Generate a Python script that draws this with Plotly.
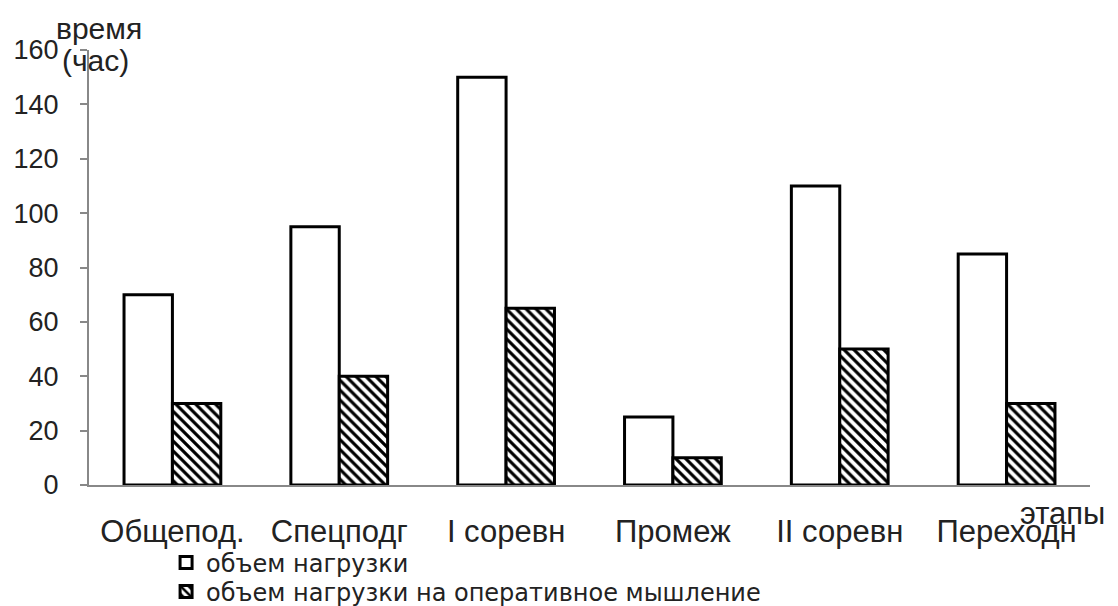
import plotly.graph_objects as go

categories = ["Общепод.", "Спецподг", "I соревн", "Промеж", "II соревн", "Переходн"]
load_total = [70, 95, 150, 25, 110, 85]
load_thinking = [30, 40, 65, 10, 50, 30]
series_names = ["объем нагрузки", "объем нагрузки на оперативное мышление"]
y_ticks = [0, 20, 40, 60, 80, 100, 120, 140, 160]

FONT = "Liberation Sans, Arial, sans-serif"
LFONT = "DejaVu Sans, Verdana, sans-serif"
TXT = "#222"

fig = go.Figure()
fig.add_trace(go.Bar(
    x=categories, y=load_total, name=series_names[0], legend="legend",
    marker=dict(color="white", line=dict(color="black", width=3)),
))
fig.add_trace(go.Bar(
    x=categories, y=load_thinking, name=series_names[1], legend="legend2",
    marker=dict(color="white", line=dict(color="black", width=3),
                pattern=dict(shape="\\", fgcolor="black", bgcolor="white",
                             size=7, solidity=0.45, fillmode="replace")),
))

legend_common = dict(xref="paper", yref="paper", xanchor="left", yanchor="middle",
                     orientation="v", font=dict(family=LFONT, size=24, color=TXT),
                     itemwidth=30, bgcolor="rgba(0,0,0,0)")

fig.update_layout(
    width=1118, height=606,
    margin=dict(l=89, r=28, t=50, b=121, autoexpand=False),
    paper_bgcolor="white", plot_bgcolor="white",
    barmode="group", bargap=0.42, bargroupgap=0,
    font=dict(family=FONT, color=TXT, size=26),
    showlegend=True,
    legend=dict(x=0.077, y=-0.179, **legend_common),
    legend2=dict(x=0.077, y=-0.246, **legend_common),
    xaxis=dict(showline=True, linecolor="#888", linewidth=2,
               ticks="outside", ticklen=18, tickcolor="rgba(0,0,0,0)",
               tickfont=dict(size=31, color=TXT), range=[-0.5, 5.5],
               showgrid=False, zeroline=False),
    yaxis=dict(showline=True, linecolor="#888", linewidth=2,
               range=[0, 160], tickvals=y_ticks,
               ticks="outside", ticklen=7, tickcolor="#888", tickwidth=2,
               tickfont=dict(size=27, color=TXT), ticklabelstandoff=16,
               showgrid=False, zeroline=False),
    annotations=[
        dict(text="время", x=0.0, y=1.0, xref="paper", yref="paper",
             xanchor="left", yanchor="middle", xshift=-35, yshift=22,
             showarrow=False, font=dict(size=30, color=TXT)),
        dict(text="(час)", x=0.0, y=1.0, xref="paper", yref="paper",
             xanchor="left", yanchor="middle", xshift=-29, yshift=-10,
             showarrow=False, font=dict(size=30, color=TXT)),
        dict(text="этапы", x=1.0, y=0, xref="paper", yref="paper",
             xanchor="right", yanchor="middle", xshift=17, yshift=-28,
             showarrow=False, font=dict(size=31, color=TXT)),
    ],
)

fig.write_html("out.html", config={"displayModeBar": False},
               post_script="document.body.style.margin='0';")
